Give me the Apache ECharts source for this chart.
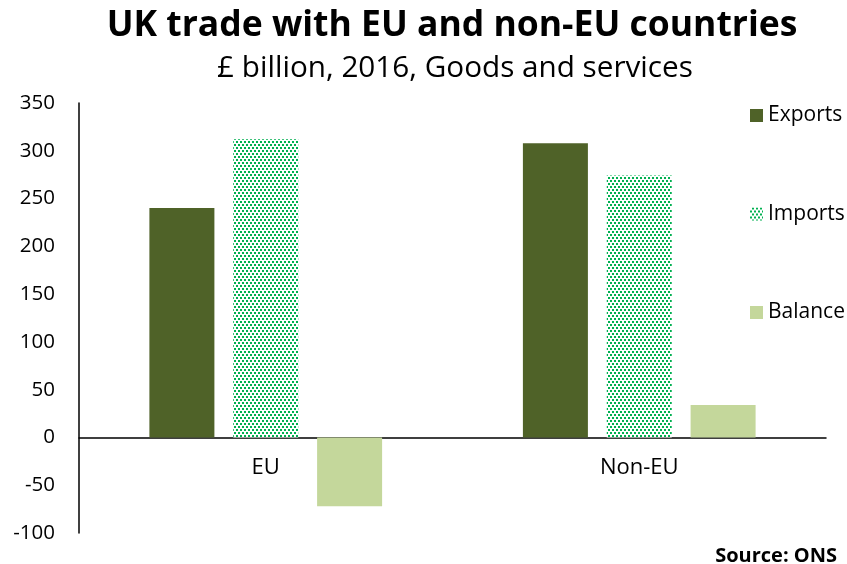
<!DOCTYPE html>
<html>
<head>
<meta charset="utf-8">
<script src="https://cdn.jsdelivr.net/npm/echarts@6/dist/echarts.min.js"></script>
<style>
html,body{margin:0;padding:0;background:#fff;}
#chart{width:847px;height:564px;}
</style>
</head>
<body>
<div id="chart"></div>
<script>
var categories = ['EU', 'Non-EU'];
var exportsData = [240, 308];
var importsData = [312, 274];
var balanceData = [-72, 34];
var yTicks = [-100, 350, 50]; // min, max, interval

var FONT = '"Open Sans", "DejaVu Sans", sans-serif';

var option = {
    animation: false,
    title: [{
        text: 'UK trade with EU and non-EU countries',
        left: 447,
        textAlign: 'center',
        top: 3,
        textStyle: {fontFamily: FONT, fontSize: 35.5, fontWeight: 'bold', color: '#000'}
    }, {
        text: '£ billion, 2016, Goods and services',
        left: 450,
        textAlign: 'center',
        top: 49,
        textStyle: {fontFamily: FONT, fontSize: 29.7, fontWeight: 'normal', color: '#000'}
    }, {
        text: 'Source: ONS',
        right: 5,
        top: 541,
        textStyle: {fontFamily: FONT, fontSize: 20, fontWeight: 'bold', color: '#000'}
    }],
    legend: {
        orient: 'vertical',
        left: 745,
        top: 100,
        itemGap: 77.5,
        itemWidth: 13,
        itemHeight: 13,
        icon: 'rect',
        textStyle: {fontFamily: FONT, fontSize: 21, color: '#000', padding: [0, 0, 0, 0]},
        data: ['Exports', 'Imports', 'Balance']
    },
    grid: {left: 79, right: 21, top: 103, bottom: 31, outerBoundsMode: 'none'},
    xAxis: {
        type: 'category',
        data: categories,
        axisLine: {onZero: true, lineStyle: {color: '#000', width: 1.5}},
        axisTick: {show: false},
        axisLabel: {fontFamily: FONT, fontSize: 22, color: '#000', margin: -76}
    },
    yAxis: {
        type: 'value',
        min: yTicks[0],
        max: yTicks[1],
        interval: yTicks[2],
        axisLine: {show: true, lineStyle: {color: '#000', width: 1.5}},
        axisTick: {show: false},
        splitLine: {show: false},
        axisLabel: {fontFamily: FONT, fontSize: 20.5, color: '#000', margin: 24}
    },
    series: [{
        name: 'Exports',
        type: 'bar',
        barWidth: 65,
        barGap: '29%',
        data: exportsData,
        itemStyle: {color: '#4f6228'}
    }, {
        name: 'Imports',
        type: 'bar',
        barWidth: 65,
        barGap: '29%',
        data: importsData,
        itemStyle: {
            color: '#ffffff',
            decal: {
                symbol: 'rect',
                symbolSize: 1,
                color: '#00b050',
                dashArrayX: [[2, 2], [0, 2, 2, 0]],
                dashArrayY: [2, 1],
                rotation: 0
            }
        }
    }, {
        name: 'Balance',
        type: 'bar',
        barWidth: 65,
        barGap: '29%',
        data: balanceData,
        itemStyle: {color: '#c4d79b'}
    }]
};

var chart = echarts.init(document.getElementById('chart'));
chart.setOption(option);
</script>
</body>
</html>
